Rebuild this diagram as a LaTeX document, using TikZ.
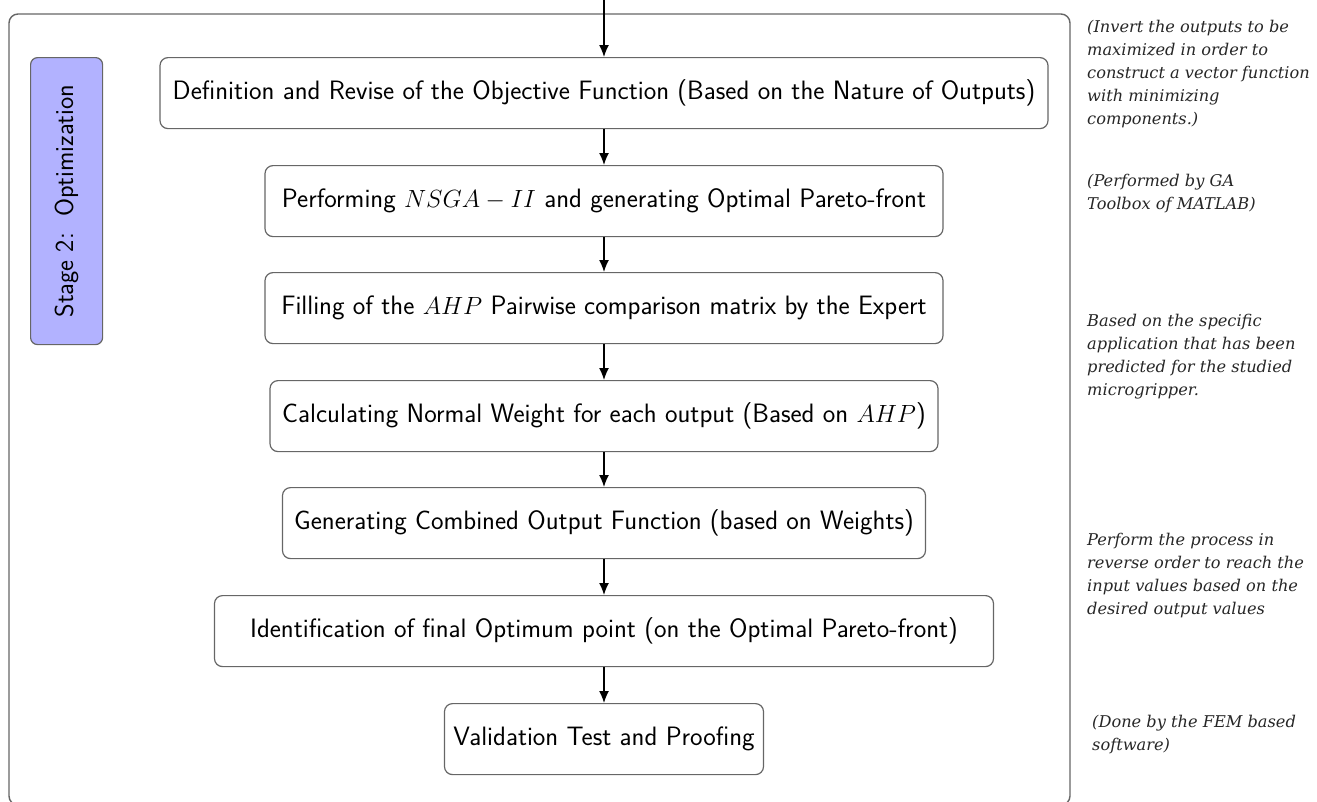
\documentclass[tikz,border=0pt]{standalone}
\usepackage{fontspec}
\newfontfamily\notefont{DejaVu Serif}
\usetikzlibrary{arrows.meta}
\begin{document}
\begin{tikzpicture}[x=1pt,y=-1pt,
  stepbox/.style={draw=black!60,line width=1.2pt,rounded corners=8pt,minimum height=71pt,inner sep=0pt,font=\sffamily\fontsize{26.6}{30}\selectfont,anchor=north},
  flow/.style={-{Latex[length=12pt,width=10pt]},line width=1.4pt},
  note/.style={anchor=north west,align=left,inner sep=0pt,font=\notefont\itshape\fontsize{16.2}{23}\selectfont,text=black!85}]
\useasboundingbox (0,0) rectangle (1317,801);
\draw[black!60,line width=1.4pt,rounded corners=9pt] (9,14) rectangle (1070,805);
\node[draw=black!60,line width=1.2pt,fill=blue!30,rounded corners=7pt,minimum width=72pt,minimum height=287pt,inner sep=0pt,anchor=north west] (stage) at (30,57) {};
\node[rotate=90,font=\sffamily\fontsize{26}{30}\selectfont] (stagelabel) at (stage.center) {Stage 2:\ \ Optimization};
\coordinate (top) at (604,0);
\node[stepbox,minimum width=888pt] (b1) at (604,57) {Definition and Revise of the Objective Function (Based on the Nature of Outputs)};
\node[stepbox,minimum width=678pt] (b2) at (604,165) {Performing $NSGA-II$ and generating Optimal Pareto-front};
\node[stepbox,minimum width=678pt] (b3) at (604,272) {Filling of the $AHP$ Pairwise comparison matrix by the Expert};
\node[stepbox,minimum width=668pt] (b4) at (604,380) {Calculating Normal Weight for each output (Based on $AHP$)};
\node[stepbox,minimum width=643pt] (b5) at (604,487) {Generating Combined Output Function (based on Weights)};
\node[stepbox,minimum width=779pt] (b6) at (604,595) {Identification of final Optimum point (on the Optimal Pareto-front)};
\node[stepbox,minimum width=319pt] (b7) at (604,703) {Validation Test and Proofing};
\draw[flow] (top) -- (b1.north);
\draw[flow] (b1) -- (b2);
\draw[flow] (b2) -- (b3);
\draw[flow] (b3) -- (b4);
\draw[flow] (b4) -- (b5);
\draw[flow] (b5) -- (b6);
\draw[flow] (b6) -- (b7);
\node[note] (n1) at (1087,20) {(Invert the outputs to be\\maximized in order to\\construct a vector function\\with minimizing\\components.)};
\node[note] (n2) at (1087,174) {(Performed by GA\\Toolbox of MATLAB)};
\node[note] (n3) at (1087,314) {Based on the specific\\application that has been\\predicted for the studied\\microgripper.};
\node[note] (n4) at (1087,533) {Perform the process in\\reverse order to reach the\\input values based on the\\desired output values};
\node[note] (n5) at (1092,715) {(Done by the FEM based\\software)};
\end{tikzpicture}
\end{document}
